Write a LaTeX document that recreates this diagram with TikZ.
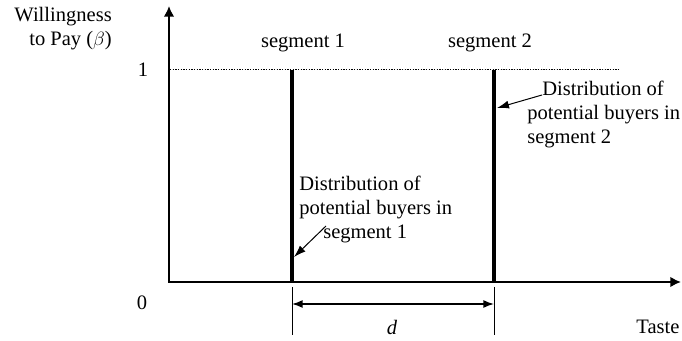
\documentclass[tikz,border=0pt]{standalone}
\usepackage{fontspec}
\setmainfont{Liberation Serif}
\usetikzlibrary{arrows.meta}

\begin{document}
\begin{tikzpicture}[x=0.75pt,y=-0.75pt,
    txt/.style={font=\fontsize{15.4}{18}\selectfont,inner sep=0pt},
    note/.style={txt,align=left,anchor=north west},
    bar/.style={line width=3pt},
    pointer/.style={line width=0.75pt,-{Latex[length=9pt,width=6pt]}},
    tick/.style={line width=0.75pt}]
        \useasboundingbox (0,0) rectangle (682,341);
        % axes
        \coordinate (O) at (169,282);
        \coordinate (ytip) at (169,6);
        \coordinate (xtip) at (681,282);
        \draw[line width=1.5pt,{Latex[length=8pt,width=8pt]}-{Latex[length=8pt,width=8pt]}] (ytip) |- (xtip);
        \node[txt,anchor=east,align=right] (ylab) at (112,29) {Willingness\\to Pay ($\beta$)};
        \node[txt] (one) at (143,70) {1};
        \node[txt] (zero) at (142,303) {0};
        \node[txt] (taste) at (658,327) {Taste};
        % level one
        \coordinate (dot1) at (170,70);
        \coordinate (dot2) at (620,70);
        \draw[line width=0.75pt,dash pattern=on 1pt off 1pt] (dot1) -- (dot2);
        % the two segments
        \coordinate (s1top) at (292,70);
        \coordinate (s1bot) at (292,282);
        \coordinate (s2top) at (494,70);
        \coordinate (s2bot) at (494,282);
        \draw[bar] (s1top) -- (s1bot);
        \draw[bar] (s2top) -- (s2bot);
        \node[txt] (seg1) at (303,43) {segment 1};
        \node[txt] (seg2) at (490,43) {segment 2};
        % notes
        \node[note] (note2) at (527,81) {\hspace{11.25pt}Distribution of\\potential buyers in\\segment 2};
        \node[note] (note1) at (299,176) {Distribution of\\potential buyers in\\\hspace{18pt}segment 1};
        \coordinate (from2) at (542,95);
        \coordinate (to2) at (497,108);
        \coordinate (from1) at (326,226);
        \coordinate (to1) at (294,257);
        \draw[pointer] (from2) -- (to2);
        \draw[pointer] (from1) -- (to1);
        % distance d
        \coordinate (t1a) at (292,287);
        \coordinate (t1b) at (292,335);
        \coordinate (t2a) at (494,287);
        \coordinate (t2b) at (494,335);
        \draw[tick] (t1a) -- (t1b);
        \draw[tick] (t2a) -- (t2b);
        \coordinate (d1) at (292,304);
        \coordinate (d2) at (494,304);
        \draw[line width=1.1pt,{Latex[length=8pt,width=6pt]}-{Latex[length=8pt,width=6pt]}] (d1) -- (d2);
        \node[txt] (dlab) at (392,327) {\itshape d};
\end{tikzpicture}
\end{document}
